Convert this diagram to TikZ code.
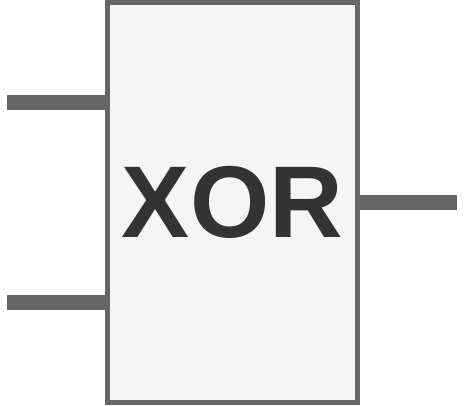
\documentclass[tikz,border=0pt]{standalone}
\usepackage{fontspec}
\setmainfont{Liberation Sans}
\definecolor{wire}{HTML}{666666}
\definecolor{boxfill}{HTML}{F5F5F5}
\definecolor{txt}{HTML}{333333}
\begin{document}
\begin{tikzpicture}[x=1bp,y=-1bp,
  wirestyle/.style={draw=wire,line width=15bp},
  gatebox/.style={draw=wire,fill=boxfill,line width=5bp,text=txt,
    minimum width=250bp,minimum height=400bp,inner sep=0pt,outer sep=0pt,
    font={\fontsize{102bp}{110bp}\selectfont\bfseries}}]
\useasboundingbox (0,0) rectangle (470,405);
\node[gatebox] (gate) at (232.5,202.5) {XOR};
\coordinate (i1) at (7,102.5);
\coordinate (i2) at (7,302.5);
\coordinate (o1) at (457,202);
\draw[wirestyle] (i1) -- (i1 -| gate.west);
\draw[wirestyle] (i2) -- (i2 -| gate.west);
\draw[wirestyle] (o1 -| gate.east) -- (o1);
\end{tikzpicture}
\end{document}
